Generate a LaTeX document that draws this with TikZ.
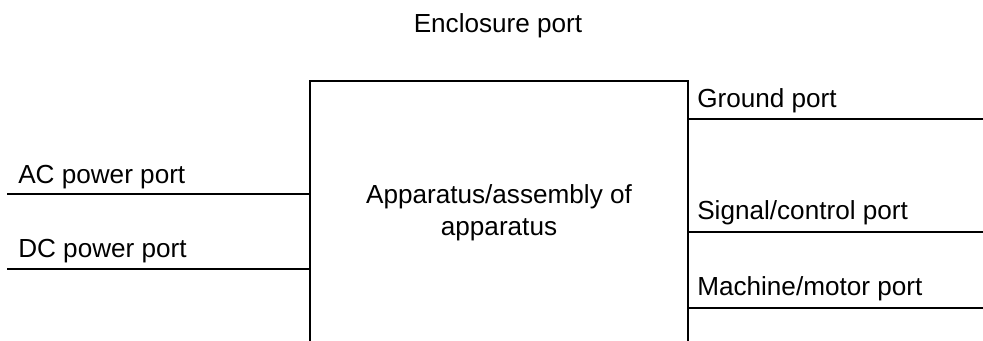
\documentclass[tikz,border=0pt]{standalone}
\usepackage{fontspec}
\setmainfont{Liberation Sans}
\usetikzlibrary{calc}
\tikzset{portline/.style={line width=1pt}, portlabel/.style={anchor=base west, inner sep=0pt},
	every node/.style={font=\fontsize{19.6}{24}\selectfont}}

\begin{document}
\begin{tikzpicture}[x=0.75pt,y=-0.75pt]
		\useasboundingbox (0,0) rectangle (983,340);
		\clip (0,0) rectangle (983,340);
		\node[draw, line width=1.5pt, minimum width=283.5pt, minimum height=198pt, align=center, inner sep=0pt] (eut) at (499,213) {Apparatus/assembly of\\apparatus};
		\node[anchor=base, inner sep=0pt] (encl) at (498,32) {Enclosure port};
		% left ports
		\coordinate (acend) at (7,194);
		\coordinate (dcend) at (7,269);
		\draw[portline] (acend) -- (acend -| eut.west);
		\draw[portline] (dcend) -- (dcend -| eut.west);
		\node[portlabel] (ac) at (18,183) {AC power port};
		\node[portlabel] (dc) at (18,257) {DC power port};
		% right ports
		\coordinate (gndend) at (983,119);
		\coordinate (sigend) at (983,232);
		\coordinate (motend) at (983,308);
		\draw[portline] (gndend -| eut.east) -- (gndend);
		\draw[portline] (sigend -| eut.east) -- (sigend);
		\draw[portline] (motend -| eut.east) -- (motend);
		\node[portlabel] (gnd) at (697,107) {Ground port};
		\node[portlabel] (sig) at (697,219) {Signal/control port};
		\node[portlabel] (mot) at (697,295) {Machine/motor port};
\end{tikzpicture}
\end{document}
